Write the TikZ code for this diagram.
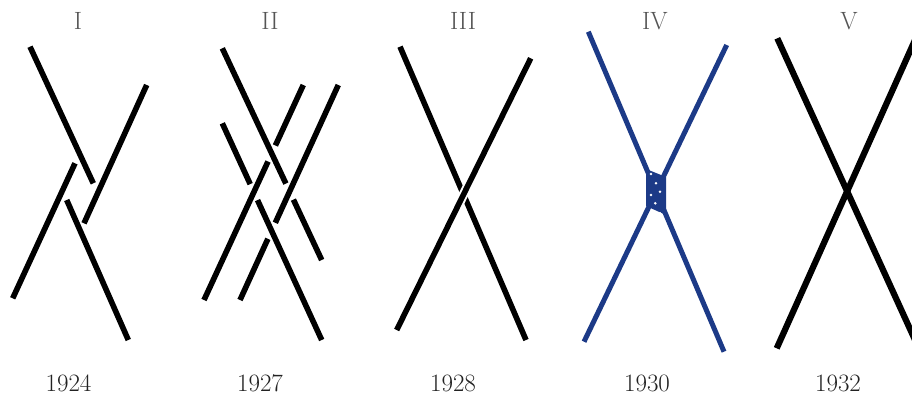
\documentclass[tikz,border=0pt]{standalone}
\usepackage{tikz}
\usepackage{xcolor}
\definecolor{cInk}{HTML}{000000}
\definecolor{cBlue}{HTML}{1C3A87}
\definecolor{cLabel}{HTML}{555555}
\definecolor{cYear}{HTML}{222222}

\begin{document}
\begin{tikzpicture}[
  x=1pt, y=-1pt,
  bar/.style={draw=cInk, line width=5.6pt},
  barwide/.style={draw=cInk, line width=6.2pt},
  barblue/.style={draw=cBlue, line width=5pt},
  over/.style={preaction={draw=white, line width=9.5pt}},
  lbl/.style={anchor=base, text=cLabel, font=\fontsize{25}{30}\selectfont},
  yearlbl/.style={lbl, text=cYear}
]
  \useasboundingbox (0,0) rectangle (912,396);
  \clip (0,0) rectangle (912,396);

  \node[lbl] (n1) at (78,30) {I};
  \node[lbl] (n2) at (270,30) {II};
  \node[lbl] (n3) at (463,30) {III};
  \node[lbl] (n4) at (655,30) {IV};
  \node[lbl] (n5) at (849,30) {V};

  \node[yearlbl] (y1) at (68.5,391.5) {1924};
  \node[yearlbl] (y2) at (260,391.5) {1927};
  \node[yearlbl] (y3) at (453,391.5) {1928};
  \node[yearlbl] (y4) at (647,391.5) {1930};
  \node[yearlbl] (y5) at (838,391.5) {1932};

  % I
  \draw[bar] (30,46.7) -- (93.3,183.3);
  \draw[bar] (146.7,85) -- (84,223.3);
  \draw[bar] (75,163.3) -- (12.7,298.3);
  \draw[bar] (66.7,200) -- (128.3,340);

  % II
  \draw[bar] (222.3,48.3) -- (285.9,183.6);
  \draw[bar] (293.4,199.6) -- (321.7,260);
  \draw[bar] (222.3,123.3) -- (250.2,184.1);
  \draw[bar] (257.5,200.1) -- (321.7,340);
  \draw[bar] (303.3,85) -- (275.4,145.5);
  \draw[bar] (268.0,161.5) -- (204,300);
  \draw[bar] (338.3,85) -- (275.3,222.8);
  \draw[bar] (267.9,238.8) -- (240,300);

  % III
  \draw[bar] (400,46.7) -- (526,340);
  \draw[bar, over] (530.7,58.3) -- (396.7,330);

  % IV
  \fill[cBlue] (646,169) -- (666,177) -- (666,215) -- (646,206) -- cycle;
  \draw[barblue] (588.3,31.7) -- (724,351.7);
  \draw[barblue] (726.7,45) -- (584,341.7);
  \foreach \px/\py in {651/174, 656/183.3, 660/191.7, 651/195, 655.3/203.3, 660/213.3}
    \fill[white] (\px,\py) circle (1.4pt);

  % V
  \draw[barwide] (777.3,38.3) -- (920.5,352);
  \draw[barwide] (919.5,30) -- (776.7,348.3);
\end{tikzpicture}
\end{document}
